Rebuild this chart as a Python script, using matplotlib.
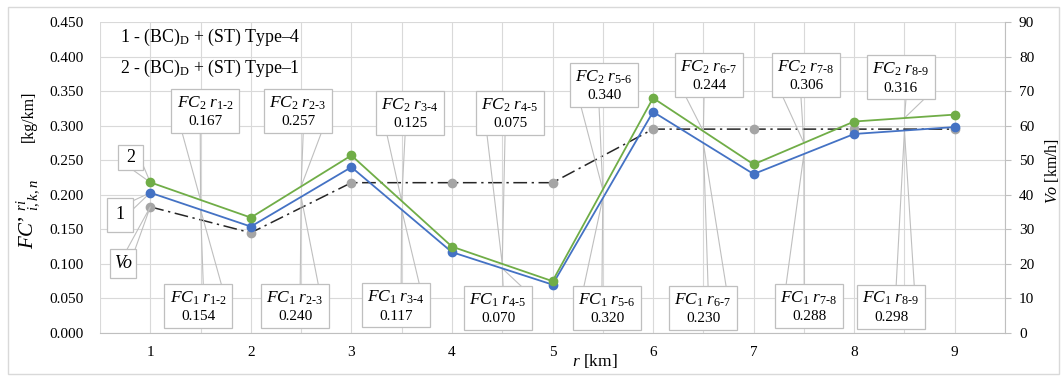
import numpy as np
import matplotlib
matplotlib.use('Agg')
import matplotlib.pyplot as plt
from matplotlib.patches import Rectangle

plt.rcParams['font.family'] = ['Liberation Serif', 'DejaVu Serif']
plt.rcParams['mathtext.fontset'] = 'custom'
plt.rcParams['mathtext.rm'] = 'Liberation Serif'
plt.rcParams['mathtext.it'] = 'Liberation Serif:italic'
plt.rcParams['mathtext.bf'] = 'Liberation Serif:bold'

# ---------------- data ----------------
r_km = [1, 2, 3, 4, 5, 6, 7, 8, 9]
fc1 = [0.203, 0.154, 0.240, 0.117, 0.070, 0.320, 0.230, 0.288, 0.298]   # series 1 (Type-4)
fc2 = [0.218, 0.167, 0.257, 0.125, 0.075, 0.340, 0.244, 0.306, 0.316]   # series 2 (Type-1)
vo = [36.5, 29, 43.5, 43.5, 43.5, 59, 59, 59, 59]                        # Vo [km/h]
segments = ['1-2', '2-3', '3-4', '4-5', '5-6', '6-7', '7-8', '8-9']
legend_lines = [r'1 - (BC)$_{\mathrm{D}}$ + (ST) Type–4',
                r'2 - (BC)$_{\mathrm{D}}$ + (ST) Type–1']

# ---------------- layout constants ----------------
W, H = 1061, 376
top_box_xy = [(1.547, 0.321), (2.471, 0.321), (3.584, 0.318), (4.578, 0.318),
              (5.513, 0.359), (6.557, 0.373), (7.521, 0.373), (8.465, 0.370)]
bot_box_xy = [(1.477, 0.039), (2.441, 0.039), (3.445, 0.040), (4.459, 0.036),
              (5.542, 0.036), (6.497, 0.036), (7.553, 0.039), (8.368, 0.038)]
BOX_W, BOX_H = 0.676, 0.0637
GRID = '#d9d9d9'
EDGE = '#bfbfbf'
BLUE = '#4472c4'
GREEN = '#70ad47'
GRAY = '#a5a5a5'

fig = plt.figure(figsize=(W / 100, H / 100), dpi=100)
ax = fig.add_axes([100 / W, 1 - 333 / H, 905 / W, 311 / H])
ax2 = ax.twinx()
ax.set_zorder(ax2.get_zorder() + 1)
ax.patch.set_visible(False)

Y1MAX, Y2MAX = 0.45, 90
ax.set_xlim(0.5, 9.5)
ax.set_ylim(0, Y1MAX)
ax2.set_ylim(0, Y2MAX)
ax.set_xticks(r_km)
ax.set_xticklabels([str(v) for v in r_km])
ax.set_yticks(np.arange(0, Y1MAX + 1e-9, 0.05))
ax.set_yticklabels(['%.3f' % v for v in np.arange(0, Y1MAX + 1e-9, 0.05)])
ax2.set_yticks(np.arange(0, Y2MAX + 1, 10))

for s in ax.spines.values():
    s.set_visible(False)
for k, s in ax2.spines.items():
    s.set_visible(k in ('right', 'bottom'))
    s.set_color(EDGE)
    s.set_linewidth(0.8)

ax.tick_params(axis='y', length=0, pad=12, labelsize=11)
ax.tick_params(axis='x', length=0, pad=9, labelsize=11)
ax2.tick_params(axis='y', length=4, color=EDGE, width=0.8, pad=6, labelsize=11)

# grid on the lower (twin) axes
ax2.yaxis.grid(True, color=GRID, lw=0.8, zorder=0)
for xv in np.arange(0.5, 9.51, 0.5):
    ax2.axvline(xv, color=GRID, lw=0.8, zorder=0)
ax2.set_axisbelow(True)

# data lines
ax2.plot(r_km, vo, color='#262626', lw=1.1, dashes=(9, 3, 1.5, 3),
         marker='o', ms=6, mfc=GRAY, mec=GRAY, zorder=3)
ax.plot(r_km, fc1, color=BLUE, lw=1.3, marker='o', ms=6, zorder=3)
ax.plot(r_km, fc2, color=GREEN, lw=1.3, marker='o', ms=6, zorder=3)


def seg_text(fc_idx, seg):
    a, b = seg.split('-')
    return (r'$\mathit{FC}_{\mathit{%s}}\ \mathit{r}_{\mathit{%s}\text{-}\mathit{%s}}$'
            % (fc_idx, a, b))


def callout(cx, cy, tip, text_top, text_bot, top):
    left = cx - BOX_W / 2
    by = cy - BOX_H / 2 if top else cy + BOX_H / 2
    if tip[0] >= cx:
        b1, b2 = cx + 0.05, cx + 0.229
    else:
        b1, b2 = cx - 0.229, cx - 0.05
    ax.plot([b1, tip[0], b2], [by, tip[1], by], color=EDGE, lw=0.8, zorder=1,
            solid_joinstyle='miter')
    ax.add_patch(Rectangle((left, cy - BOX_H / 2), BOX_W, BOX_H, fc='white',
                           ec=EDGE, lw=0.9, zorder=4))
    ax.text(cx, cy + 0.0115, text_top, ha='center', va='center', size=12.5, zorder=5)
    ax.text(cx, cy - 0.0155, text_bot, ha='center', va='center', size=11, zorder=5)


for i, seg in enumerate(segments):
    xm = (r_km[i] + r_km[i + 1]) / 2
    g_mid = (fc2[i] + fc2[i + 1]) / 2
    b_mid = (fc1[i] + fc1[i + 1]) / 2
    cx, cy = top_box_xy[i]
    callout(cx, cy, (xm, g_mid), seg_text(2, seg), '%.3f' % fc2[i + 1], True)
    cx, cy = bot_box_xy[i]
    callout(cx, cy, (xm, b_mid), seg_text(1, seg), '%.3f' % fc1[i + 1], False)


def small_callout(cx, cy, w, h, text, base, tip, italic=False):
    ax.plot([base[0][0], tip[0], base[1][0]], [base[0][1], tip[1], base[1][1]],
            color=EDGE, lw=0.8, zorder=1)
    ax.add_patch(Rectangle((cx - w / 2, cy - h / 2), w, h, fc='white', ec=EDGE,
                           lw=0.9, zorder=4))
    ax.text(cx, cy, text, ha='center', va='center', size=13, zorder=5,
            style='italic' if italic else 'normal')


# "2" -> series 2 first point
cx, cy, w, h = 0.806, 0.254, 0.249, 0.036
small_callout(cx, cy, w, h, '2',
              [(cx + 0.02, cy - h / 2), (cx + w / 2, cy - h / 2 + 0.006)],
              (r_km[0], fc2[0]))
# "1" -> series 1 first point
cx, cy, w, h = 0.702, 0.171, 0.258, 0.049
small_callout(cx, cy, w, h, '1',
              [(cx + w / 2, cy + h / 2 - 0.004), (cx + w / 2, cy + h / 2 - 0.016)],
              (r_km[0], fc1[0]))
# "Vo" -> Vo first point
cx, cy, w, h = 0.731, 0.1006, 0.258, 0.042
small_callout(cx, cy, w, h, 'Vo',
              [(cx + 0.04, cy + h / 2), (cx + w / 2 - 0.01, cy + h / 2)],
              (r_km[0], vo[0] / Y2MAX * Y1MAX), italic=True)

# legend-like text
ax.text(0.702, 0.427, legend_lines[0], ha='left', va='center', size=12.8, zorder=5)
ax.text(0.702, 0.3835, legend_lines[1], ha='left', va='center', size=12.8, zorder=5)

# axis titles
fig.text(28 / W, 1 - 214 / H, r'$FC’\ {}^{ri}_{i,k,n}$', rotation=90, size=15,
         ha='center', va='center')
fig.text(29 / W, 1 - 116 / H, '[kg/km]', rotation=90, size=11.5,
         ha='center', va='center')
fig.text(1052 / W, 1 - 171 / H, r'$Vo$ [km/h]', rotation=90, size=11.5,
         ha='center', va='center')
fig.text(595 / W, 1 - 361 / H, r'$r$ [km]', size=12.5, ha='center', va='center')

# chart border
fig.add_artist(Rectangle((8 / W, 2 / H), 1051 / W, 367 / H, transform=fig.transFigure,
                         fill=False, ec=GRID, lw=1))

fig.savefig('out.png', dpi=100)
